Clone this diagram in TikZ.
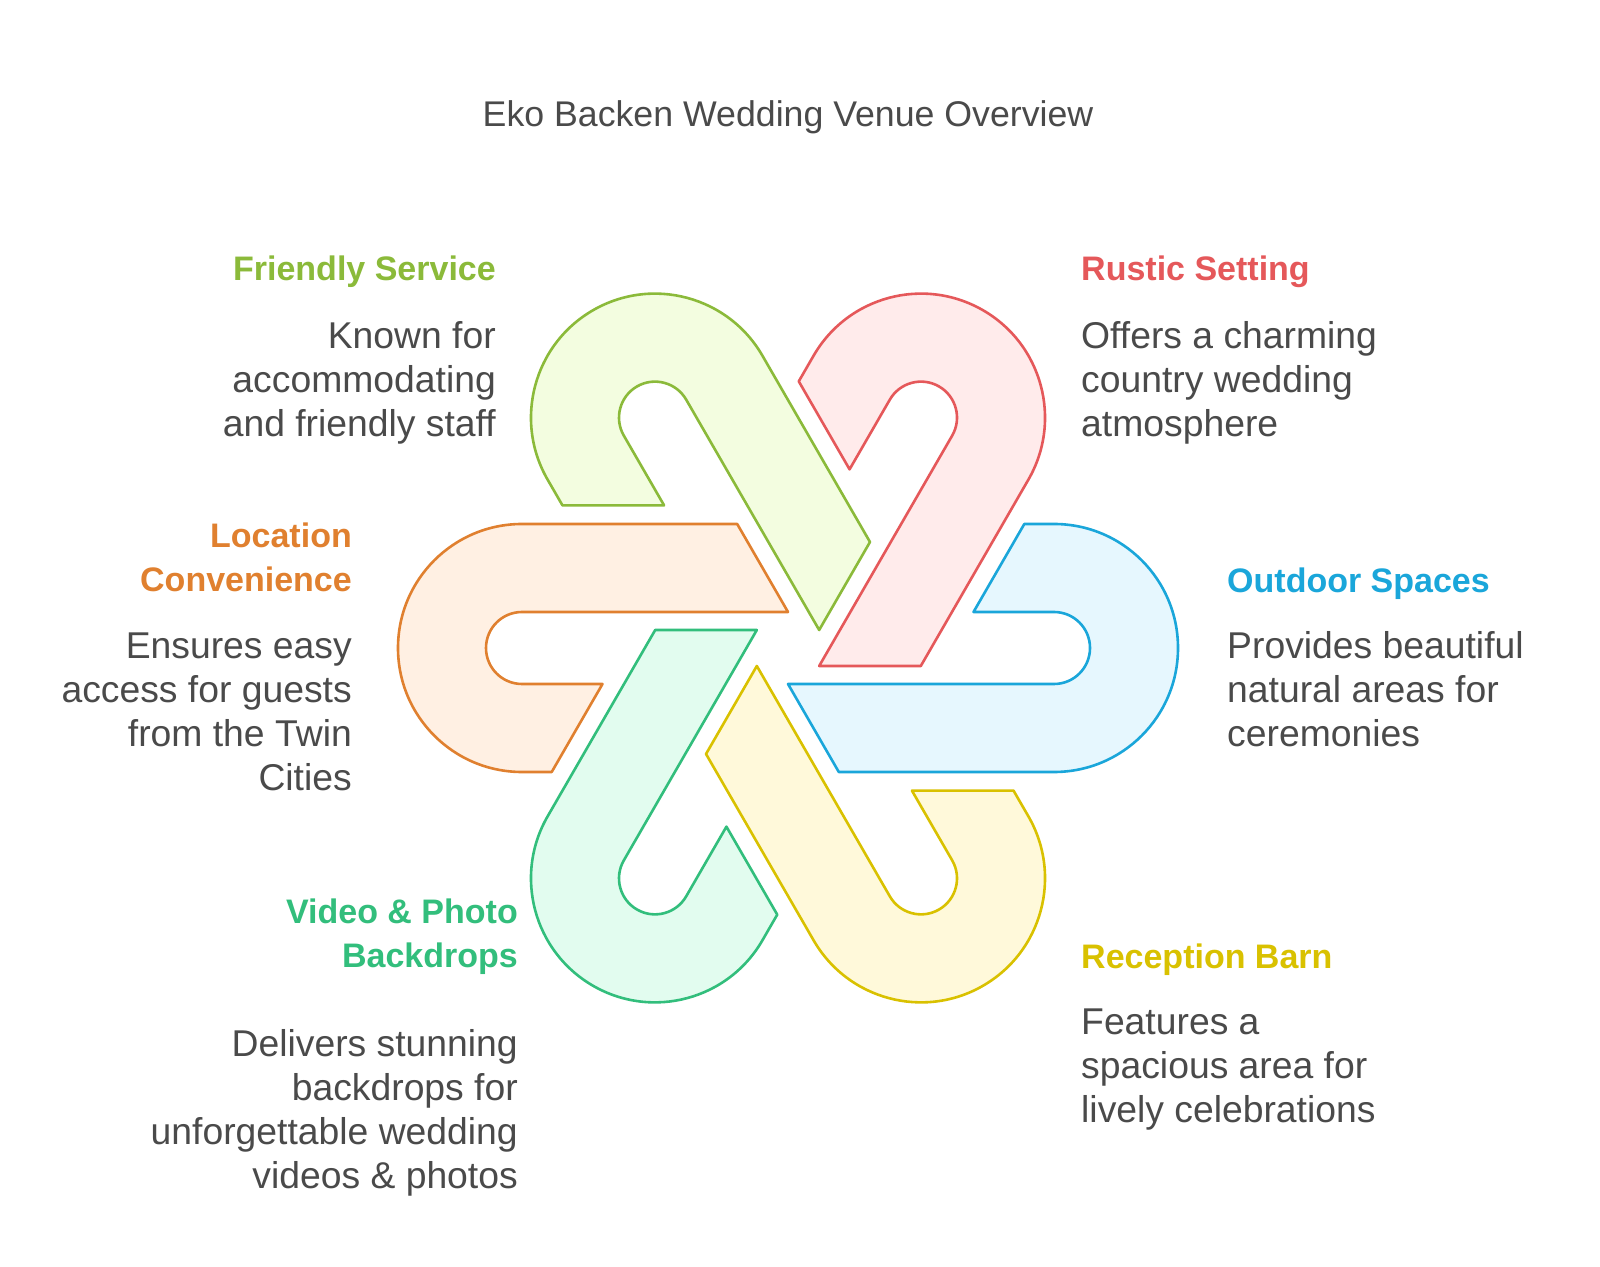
\documentclass[tikz,border=0pt]{standalone}
\usepackage{fontspec}
\setmainfont{Liberation Sans}
\definecolor{txt}{HTML}{4A4A4A}
\definecolor{sBlue}{HTML}{1AA6DA}\definecolor{fBlue}{HTML}{E6F7FE}
\definecolor{sRed}{HTML}{E5585A}\definecolor{fRed}{HTML}{FFEBEB}
\definecolor{sLime}{HTML}{8BBA3A}\definecolor{fLime}{HTML}{F3FDE0}
\definecolor{sOrange}{HTML}{E0802F}\definecolor{fOrange}{HTML}{FFF0E3}
\definecolor{sGreen}{HTML}{32BE7C}\definecolor{fGreen}{HTML}{E2FCEF}
\definecolor{sYellow}{HTML}{D9C100}\definecolor{fYellow}{HTML}{FFF9DA}
\begin{document}
\begin{tikzpicture}[x=1pt,y=1pt,
  band/.pic={\path[pic actions] (236.3,124) -- (266,124) arc[start angle=90,end angle=-90,radius=124] -- (50.8,-124) -- (0,-36) -- (266,-36) arc[start angle=-90,end angle=90,radius=36] -- (185.5,36) -- cycle;},
  bandstyle/.style={line width=2.6pt, line join=round},
  body/.style={font=\fontsize{37.3}{44}\selectfont, text=txt, inner sep=0pt},
  head/.style={font=\bfseries\fontsize{34}{44}\selectfont, inner sep=0pt}]
\useasboundingbox (0,0) rectangle (1600,1266);
\fill[white] (0,0) rectangle (1600,1266);
\coordinate (C) at (788,618);
\pic[bandstyle, draw=sBlue, fill=fBlue, rotate=0] (pBlue) at (C) {band};
\pic[bandstyle, draw=sRed, fill=fRed, rotate=60] (pRed) at (C) {band};
\pic[bandstyle, draw=sLime, fill=fLime, rotate=120] (pLime) at (C) {band};
\pic[bandstyle, draw=sOrange, fill=fOrange, rotate=180] (pOrange) at (C) {band};
\pic[bandstyle, draw=sGreen, fill=fGreen, rotate=240] (pGreen) at (C) {band};
\pic[bandstyle, draw=sYellow, fill=fYellow, rotate=300] (pYellow) at (C) {band};

\node[font=\fontsize{35.7}{44}\selectfont, text=txt, inner sep=0pt, anchor=base] (title) at (788,1139.5) {Eko Backen Wedding Venue Overview};

% multi-line nodes: base anchor = baseline of last line
\node[head, text=sLime, anchor=base east, align=right] (h1) at (496,985.5) {Friendly Service};
\node[body, anchor=base east, align=right] (b1) at (496,829.5) {Known for\\accommodating\\and friendly staff};

\node[head, text=sRed, anchor=base west, align=left] (h2) at (1081,985.5) {Rustic Setting};
\node[body, anchor=base west, align=left] (b2) at (1081,829.5) {Offers a charming\\country wedding\\atmosphere};

\node[head, text=sOrange, anchor=base east, align=right] (h3) at (352,674.5) {Location\\Convenience};
\node[body, anchor=base east, align=right] (b3) at (352,475.5) {Ensures easy\\access for guests\\from the Twin\\Cities};

\node[head, text=sBlue, anchor=base west, align=left] (h4) at (1227,673.5) {Outdoor Spaces};
\node[body, anchor=base west, align=left] (b4) at (1227,519.5) {Provides beautiful\\natural areas for\\ceremonies};

\node[head, text=sGreen, anchor=base east, align=right] (h5) at (518,298.5) {Video \& Photo\\Backdrops};
\node[body, anchor=base east, align=right] (b5) at (518,77.5) {Delivers stunning\\backdrops for\\unforgettable wedding\\videos \& photos};

\node[head, text=sYellow, anchor=base west, align=left] (h6) at (1081,297.5) {Reception Barn};
\node[body, anchor=base west, align=left] (b6) at (1081,143.5) {Features a\\spacious area for\\lively celebrations};
\end{tikzpicture}
\end{document}
